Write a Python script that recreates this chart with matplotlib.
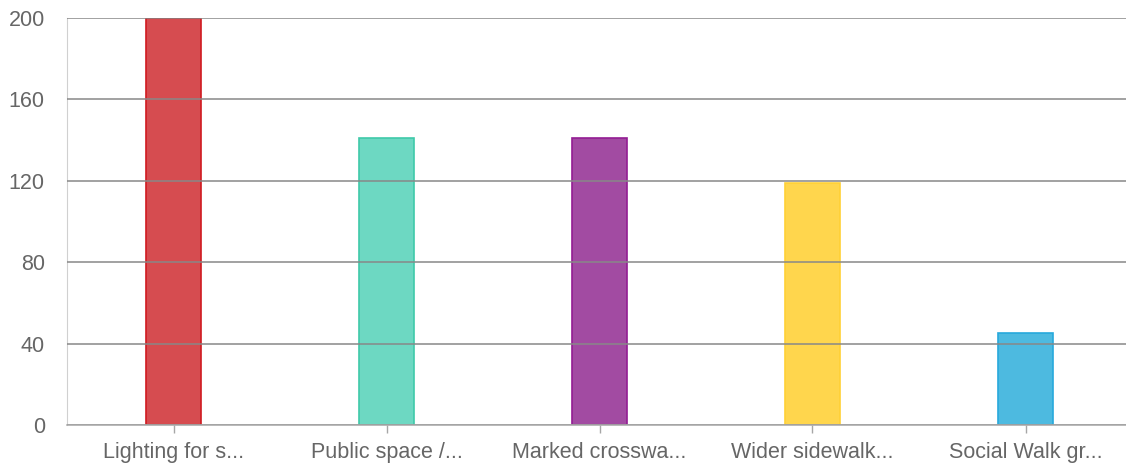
import matplotlib.pyplot as plt

plt.rcParams['font.family'] = ['Liberation Sans', 'DejaVu Sans']

# Data
categories = ['Lighting for s...', 'Public space /...', 'Marked crosswa...',
              'Wider sidewalk...', 'Social Walk gr...']
counts = [200, 141, 141, 119, 45]
y_ticks = [0, 40, 80, 120, 160, 200]

fill_colors = ['#d64c50', '#6dd8c2', '#a24ba2', '#ffd64d', '#4dbae0']
edge_colors = ['#d01a20', '#3fc9a9', '#931d93', '#ffd136', '#27a9dc']

W, H = 1126, 466
fig = plt.figure(figsize=(W / 100, H / 100), dpi=100)
# plot area runs a little past the right edge of the canvas
ax = fig.add_axes([67 / W, 41 / H, 1065 / W, 407 / H])

x = range(len(categories))
ax.bar(x, counts, width=0.26, color=fill_colors, edgecolor=edge_colors,
       linewidth=1.2, zorder=2)

ax.set_xlim(-0.5, len(categories) - 0.5)
ax.set_ylim(0, 200)
ax.set_yticks(y_ticks)
ax.set_xticks(list(x))
ax.set_xticklabels(categories)

ax.grid(axis='y', color='#888888', linewidth=1.1, zorder=3)
ax.set_axisbelow(False)

for side in ['top', 'right']:
    ax.spines[side].set_visible(False)
ax.spines['left'].set_color('#d0d0d0')
ax.spines['bottom'].set_color('#a6a6a6')
ax.spines['bottom'].set_linewidth(1.1)
ax.spines['bottom'].set_zorder(4)

ax.tick_params(axis='y', length=0, pad=16, labelsize=15.5, labelcolor='#666666')
ax.tick_params(axis='x', length=6, width=1, color='#a6a6a6', pad=6,
               labelsize=15.5, labelcolor='#666666')

fig.savefig('out.png', dpi=100)
